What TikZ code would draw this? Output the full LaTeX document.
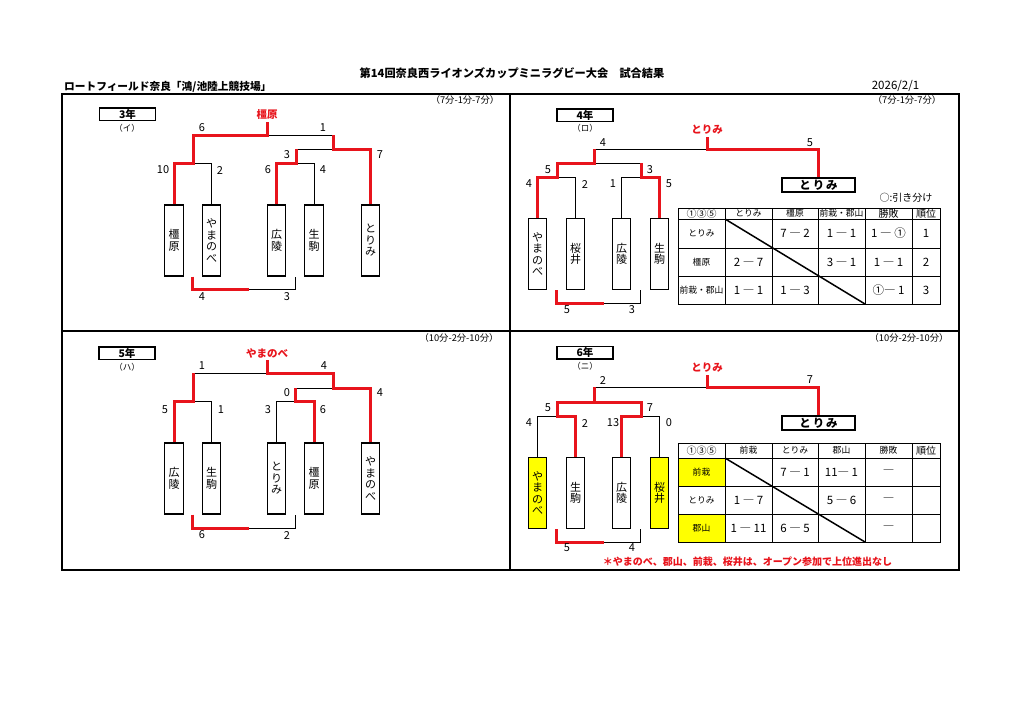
\documentclass[tikz,border=0pt]{standalone}
\usepackage{fontspec}
\setmainfont{Noto Sans CJK JP}
\definecolor{rd}{RGB}{232,20,28}
\definecolor{yl}{RGB}{255,255,0}
\begin{document}
\begin{tikzpicture}[x=1pt,y=-1pt,
 win/.style={draw=rd,line width=3pt},
 lose/.style={draw=black,line width=0.9pt},
 team/.style={draw,line width=1.1pt,fill=white,minimum width=18.5pt,minimum height=71pt,inner sep=0pt,align=center,font=\fontsize{11}{11.5}\selectfont},
 sc/.style={inner sep=0pt,font=\fontsize{11}{11}\selectfont},
 grade/.style={draw,line width=1.5pt,minimum width=56pt,minimum height=12.5pt,inner sep=0pt,font=\bfseries\fontsize{10.5}{10.5}\selectfont},
 kana/.style={inner sep=0pt,font=\fontsize{8.5}{8.5}\selectfont},
 tm/.style={inner sep=0pt,font=\fontsize{9.3}{9.3}\selectfont},
 wlab/.style={anchor=south,inner sep=2pt,text=rd,font=\bfseries\fontsize{10.5}{10.5}\selectfont},
 champ/.style={draw,line width=1.3pt,minimum width=73pt,minimum height=14pt,inner sep=0pt,font=\bfseries\fontsize{11.5}{11.5}\selectfont},
 th/.style={inner sep=0pt,font=\fontsize{8.8}{8.8}\selectfont},
 thb/.style={inner sep=0pt,font=\fontsize{10}{10}\selectfont},
 td/.style={inner sep=0pt,font=\fontsize{11.5}{11.5}\selectfont},
 tgrid/.style={draw,line width=1pt},
 diag/.style={draw,line width=1.5pt},
 frame/.style={draw,line width=1.8pt},
]
\useasboundingbox (0,0) rectangle (1024,724);
\fill[white] (0,0) rectangle (1024,724);

% ---------- header ----------
\node[inner sep=0pt,font=\bfseries\fontsize{11.2}{11.2}\selectfont] (title) at (512,73) {第14回奈良西ライオンズカップミニラグビー大会　試合結果};
\node[anchor=west,inner sep=0pt,font=\bfseries\fontsize{10.7}{10.7}\selectfont] (venue) at (64,87) {ロートフィールド奈良「鴻/池陸上競技場」};
\node[inner sep=0pt,font=\fontsize{11.5}{11.5}\selectfont] (date) at (895.5,86) {2026/2/1};

% ---------- frame ----------
\draw[frame] (62,94) rectangle (959,570);
\draw[frame] (510,94) -- (510,570);
\draw[frame] (62,331) -- (959,331);

% ---------- time labels ----------
\node[tm] (t3) at (465,100) {（7分-1分-7分）};
\node[tm] (t4) at (907,100) {（7分-1分-7分）};
\node[tm] (t5) at (459,338) {（10分-2分-10分）};
\node[tm] (t6) at (909,338) {（10分-2分-10分）};

% ---------- grade labels ----------
\node[grade] (g3) at (127.5,114) {3年};
\node[kana] (k3) at (127,128) {（イ）};
\node[grade] (g4) at (585,115) {4年};
\node[kana] (k4) at (585,128) {（ロ）};
\node[grade] (g5) at (127,353) {5年};
\node[kana] (k5) at (127,367) {（ハ）};
\node[grade] (g6) at (585,352.5) {6年};
\node[kana] (k6) at (585,366) {（ニ）};

% ================= 3年 =================
\node[team] (A1) at (174,240.5) {橿\\原};
\node[team] (A2) at (211.5,240.5) {や\\ま\\の\\べ};
\node[team] (A3) at (276.5,240.5) {広\\陵};
\node[team] (A4) at (314,240.5) {生\\駒};
\node[team] (A5) at (370.5,240.5) {と\\り\\み};
\coordinate (j31) at (193,163);
\coordinate (j32) at (296,163);
\coordinate (j33) at (333,149);
\coordinate (j3t) at (267,135);
\node[wlab] (W3) at (267,122) {橿原};
\draw[lose] (j31) -| (A2.north);
\draw[lose] (j32) -| (A4.north);
\draw[lose] (j32 |- j33) -- (j33);
\draw[lose] (j3t) -- (j33 |- j3t);
\draw[win] (A1.north) |- (j31) |- (j3t) -- (W3.south);
\draw[win] (A3.north) |- (j32) -- (j32 |- j33);
\draw[win] (A5.north) |- (j33) -- (j33 |- j3t);
\node[sc] (s31) at (202,128) {6};
\node[sc] (s32) at (323,128) {1};
\node[sc] (s33) at (287,155) {3};
\node[sc] (s34) at (380,155) {7};
\node[sc] (s35) at (163,170) {10};
\node[sc] (s36) at (220,170) {2};
\node[sc] (s37) at (268,170) {6};
\node[sc] (s38) at (323,170) {4};
\coordinate (b31) at (192.5,289);
\coordinate (b3m) at (249,289);
\coordinate (b32) at (295.5,289);
\draw[lose] (b3m) -- (b32) -- (b32 |- A4.south);
\draw[win] (b31 |- A1.south) -- (b31) -- (b3m);
\node[sc] (s39) at (202,297) {4};
\node[sc] (s3a) at (287,297) {3};

% ================= 4年 =================
\node[team] (B1) at (537.5,254) {や\\ま\\の\\べ};
\node[team] (B2) at (575.5,254) {桜\\井};
\node[team] (B3) at (621.5,254) {広\\陵};
\node[team] (B4) at (659.5,254) {生\\駒};
\node[champ] (C4) at (818.5,185) {と\,り\,み};
\coordinate (j41) at (557,177);
\coordinate (j42) at (641,177);
\coordinate (j43) at (594,163);
\coordinate (j4t) at (707,149);
\node[wlab] (W4) at (707,137) {とりみ};
\draw[lose] (j41) -| (B2.north);
\draw[lose] (B3.north) |- (j42);
\draw[lose] (j43) -- (j42 |- j43);
\draw[lose] (j43 |- j4t) -- (j4t);
\draw[win] (B1.north) |- (j41) |- (j43) -- (j43 |- j4t);
\draw[win] (B4.north) |- (j42) -- (j42 |- j43);
\draw[win] (C4.north) |- (j4t) -- (W4.south);
\node[sc] (s41) at (603,143) {4};
\node[sc] (s42) at (810,143) {5};
\node[sc] (s43) at (548,170) {5};
\node[sc] (s44) at (650,170) {3};
\node[sc] (s45) at (529,184) {4};
\node[sc] (s46) at (585,184) {2};
\node[sc] (s47) at (613,184) {1};
\node[sc] (s48) at (669,184) {5};
\coordinate (b41) at (556.5,303);
\coordinate (b4m) at (604,303);
\coordinate (b42) at (640.5,303);
\draw[lose] (b4m) -- (b42) -- (b42 |- B4.south);
\draw[win] (b41 |- B1.south) -- (b41) -- (b4m);
\node[sc] (s49) at (567,310) {5};
\node[sc] (s4a) at (632,310) {3};

% table 4年
\node[inner sep=0pt,font=\fontsize{10}{10}\selectfont] (n4) at (906,198) {○:引き分け};
\draw[tgrid] (678,208) rectangle (940,304);
\foreach \xx in {725,772,818,865,912} \draw[tgrid] (\xx,208) -- (\xx,304);
\foreach \yy in {219,248,276} \draw[tgrid] (678,\yy) -- (940,\yy);
\draw[diag] (725,219) -- (865,304);
\node[thb] (h41) at (701.5,213.5) {①③⑤};
\node[th] (h42) at (748.5,213.5) {とりみ};
\node[th] (h43) at (795,213.5) {橿原};
\node[th] (h44) at (841.5,213.5) {前栽・郡山};
\node[thb] (h45) at (888.5,213.5) {勝敗};
\node[thb] (h46) at (926,213.5) {順位};
\node[th] (r41) at (701.5,233.5) {とりみ};
\node[td] (c412) at (795,233.5) {7 ― 2};
\node[td] (c413) at (841.5,233.5) {1 ― 1};
\node[td] (c414) at (888.5,233.5) {1 ― ①};
\node[td] (c415) at (926,233.5) {1};
\node[th] (r42) at (701.5,262) {橿原};
\node[td] (c421) at (748.5,262) {2 ― 7};
\node[td] (c423) at (841.5,262) {3 ― 1};
\node[td] (c424) at (888.5,262) {1 ― 1};
\node[td] (c425) at (926,262) {2};
\node[th] (r43) at (701.5,290) {前栽・郡山};
\node[td] (c431) at (748.5,290) {1 ― 1};
\node[td] (c432) at (795,290) {1 ― 3};
\node[td] (c434) at (888.5,290) {①― 1};
\node[td] (c435) at (926,290) {3};

% ================= 5年 =================
\node[team] (E1) at (174,478.5) {広\\陵};
\node[team] (E2) at (211.5,478.5) {生\\駒};
\node[team] (E3) at (276.5,478.5) {と\\り\\み};
\node[team] (E4) at (314,478.5) {橿\\原};
\node[team] (E5) at (370.5,478.5) {や\\ま\\の\\べ};
\coordinate (j51) at (193,401);
\coordinate (j52) at (295,401);
\coordinate (j53) at (333,388);
\coordinate (j5t) at (267,373);
\node[wlab] (W5) at (267,360) {やまのべ};
\draw[lose] (j51) -| (E2.north);
\draw[lose] (E3.north) |- (j52);
\draw[lose] (j52 |- j53) -- (j53);
\draw[lose] (j51 |- j5t) -- (j5t);
\draw[win] (E1.north) |- (j51) -- (j51 |- j5t);
\draw[win] (E4.north) |- (j52) -- (j52 |- j53);
\draw[win] (E5.north) |- (j53) |- (j5t) -- (W5.south);
\node[sc] (s51) at (202,366) {1};
\node[sc] (s52) at (324,366) {4};
\node[sc] (s53) at (287,393) {0};
\node[sc] (s54) at (380,393) {4};
\node[sc] (s55) at (165,410) {5};
\node[sc] (s56) at (221,410) {1};
\node[sc] (s57) at (268,410) {3};
\node[sc] (s58) at (323,410) {6};
\coordinate (b51) at (192.5,528);
\coordinate (b5m) at (249,528);
\coordinate (b52) at (295.5,528);
\draw[lose] (b5m) -- (b52) -- (b52 |- E4.south);
\draw[win] (b51 |- E1.south) -- (b51) -- (b5m);
\node[sc] (s59) at (202,535) {6};
\node[sc] (s5a) at (287,535) {2};

% ================= 6年 =================
\node[team,fill=yl] (D1) at (537.5,493) {や\\ま\\の\\べ};
\node[team] (D2) at (575.5,493) {生\\駒};
\node[team] (D3) at (621.5,493) {広\\陵};
\node[team,fill=yl] (D4) at (659.5,493) {桜\\井};
\node[champ] (C6) at (818.5,423) {と\,り\,み};
\coordinate (j61) at (557,416);
\coordinate (j62) at (641,416);
\coordinate (j63) at (594,402);
\coordinate (j6t) at (707,387);
\node[wlab] (W6) at (707,375) {とりみ};
\draw[lose] (D1.north) |- (j61);
\draw[lose] (j62) -| (D4.north);
\draw[lose] (j63 |- j6t) -- (j6t);
\draw[win] (D2.north) |- (j61) |- (j63);
\draw[win] (D3.north) |- (j62) |- (j63) -- (j63 |- j6t);
\draw[win] (C6.north) |- (j6t) -- (W6.south);
\node[sc] (s61) at (603,380) {2};
\node[sc] (s62) at (810,380) {7};
\node[sc] (s63) at (548,408) {5};
\node[sc] (s64) at (650,408) {7};
\node[sc] (s65) at (529,423) {4};
\node[sc] (s66) at (585,423) {2};
\node[sc] (s67) at (613,423) {13};
\node[sc] (s68) at (669,423) {0};
\coordinate (b61) at (556.5,542);
\coordinate (b6m) at (604,542);
\coordinate (b62) at (640.5,542);
\draw[lose] (b6m) -- (b62) -- (b62 |- D4.south);
\draw[win] (b61 |- D1.south) -- (b61) -- (b6m);
\node[sc] (s69) at (567,548) {5};
\node[sc] (s6a) at (632,548) {4};

% table 6年
\fill[yl] (678,458) rectangle (725,486);
\fill[yl] (678,514) rectangle (725,542);
\draw[tgrid] (678,443) rectangle (940,542);
\foreach \xx in {725,772,818,865,912} \draw[tgrid] (\xx,443) -- (\xx,542);
\foreach \yy in {458,486,514} \draw[tgrid] (678,\yy) -- (940,\yy);
\draw[diag] (725,458) -- (865,542);
\node[thb] (h61) at (701.5,450.5) {①③⑤};
\node[th] (h62) at (748.5,450.5) {前栽};
\node[th] (h63) at (795,450.5) {とりみ};
\node[th] (h64) at (841.5,450.5) {郡山};
\node[th] (h65) at (888.5,450.5) {勝敗};
\node[thb] (h66) at (926,450.5) {順位};
\node[th] (r61) at (701.5,472) {前栽};
\node[td] (c612) at (795,472) {7 ― 1};
\node[td] (c613) at (841.5,472) {11― 1};
\node[td] (c614) at (888.5,472) {―};
\node[th] (r62) at (701.5,500) {とりみ};
\node[td] (c621) at (748.5,500) {1 ― 7};
\node[td] (c623) at (841.5,500) {5 ― 6};
\node[td] (c624) at (888.5,500) {―};
\node[th] (r63) at (701.5,528) {郡山};
\node[td] (c631) at (748.5,528) {1 ― 11};
\node[td] (c632) at (795,528) {6 ― 5};
\node[td] (c634) at (888.5,528) {―};

\node[inner sep=0pt,text=rd,font=\bfseries\fontsize{10}{10}\selectfont] (note) at (747.5,562) {＊やまのべ、郡山、前栽、桜井は、オープン参加で上位進出なし};
\end{tikzpicture}
\end{document}
